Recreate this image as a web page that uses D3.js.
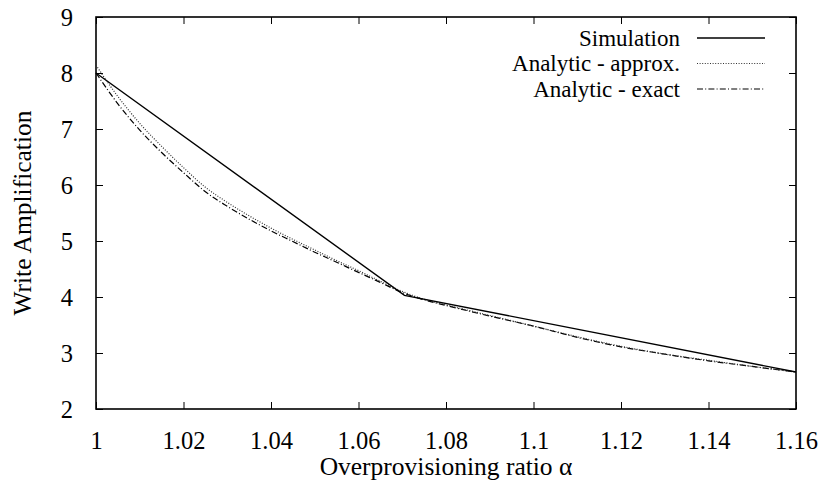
<!DOCTYPE html>
<html>
<head>
<meta charset="utf-8">
<script src="https://cdn.jsdelivr.net/npm/d3@7"></script>
<style>
  html, body { margin: 0; padding: 0; background: #fff; }
  svg { display: block; }
  text { font-family: "Liberation Serif", "Times New Roman", serif; fill: #000; }
</style>
</head>
<body>
<svg id="chart" width="822" height="485"></svg>
<script>
// Overprovisioning ratio on the x axis
const xTicks = [1, 1.02, 1.04, 1.06, 1.08, 1.1, 1.12, 1.14, 1.16];
const yTicks = [2, 3, 4, 5, 6, 7, 8, 9];

// Simulation results
const simAlpha = [1.0, 1.0705, 1.16];
const simWA    = [8.0, 4.03, 2.66];

// Analytic model, exact solution
const exactAlpha = [1.000, 1.005, 1.010, 1.015, 1.020, 1.025, 1.030, 1.035, 1.040, 1.045,
                    1.050, 1.055, 1.060, 1.065, 1.070, 1.075, 1.080, 1.090, 1.100, 1.110,
                    1.120, 1.130, 1.140, 1.150, 1.160];
const exactWA    = [8.00, 7.45, 6.98, 6.58, 6.22, 5.88, 5.62, 5.39, 5.18, 4.99,
                    4.80, 4.62, 4.44, 4.26, 4.08, 3.95, 3.85, 3.66, 3.48, 3.28,
                    3.11, 2.98, 2.86, 2.76, 2.66];

// Analytic model, approximation
const approxAlpha = exactAlpha;
const approxWA    = [8.14, 7.58, 7.10, 6.69, 6.31, 5.96, 5.69, 5.45, 5.23, 5.03,
                     4.84, 4.65, 4.47, 4.28, 4.10, 3.96, 3.86, 3.67, 3.48, 3.29,
                     3.12, 2.98, 2.87, 2.76, 2.66];

const seriesNames = ["Simulation", "Analytic - approx.", "Analytic - exact"];
const seriesDash  = [null, "1,1.6", "6,2.2,1,2.2"];
const seriesColor = ["#000", "#333", "#000"];

const svg = d3.select("#chart");
const margin = { left: 96, right: 26, top: 17, bottom: 76 };
const W = 822, H = 485;

const x = d3.scaleLinear().domain([1, 1.16]).range([margin.left, W - margin.right]);
const y = d3.scaleLinear().domain([2, 9]).range([H - margin.bottom, margin.top]);

const tickFont = 24.5;
const titleFont = 25.5;
const legendFont = 23;
const tickLen = 7;

// Axes: ticks drawn inward on all four sides, labels on bottom and left only
const xFmt = d => String(+d.toFixed(2));
svg.append("g")
  .attr("transform", `translate(0,${y(2)})`)
  .call(d3.axisBottom(x).tickValues(xTicks).tickSizeInner(-tickLen).tickSizeOuter(0).tickPadding(23).tickFormat(xFmt))
  .call(g => g.select(".domain").remove())
  .call(g => g.selectAll("line").attr("stroke", "#000").attr("stroke-width", 1))
  .call(g => g.selectAll("text").attr("font-size", tickFont).attr("font-family", "Liberation Serif").attr("dy", "0.71em"));

svg.append("g")
  .attr("transform", `translate(0,${y(9)})`)
  .call(d3.axisTop(x).tickValues(xTicks).tickSizeInner(-tickLen).tickSizeOuter(0).tickFormat(""))
  .call(g => g.select(".domain").remove())
  .call(g => g.selectAll("line").attr("stroke", "#000").attr("stroke-width", 1));

svg.append("g")
  .attr("transform", `translate(${x(1)},0)`)
  .call(d3.axisLeft(y).tickValues(yTicks).tickSizeInner(-tickLen).tickSizeOuter(0).tickPadding(23).tickFormat(d3.format("d")))
  .call(g => g.select(".domain").remove())
  .call(g => g.selectAll("line").attr("stroke", "#000").attr("stroke-width", 1))
  .call(g => g.selectAll("text").attr("font-size", tickFont).attr("font-family", "Liberation Serif").attr("dy", "0.36em"));

svg.append("g")
  .attr("transform", `translate(${x(1.16)},0)`)
  .call(d3.axisRight(y).tickValues(yTicks).tickSizeInner(-tickLen).tickSizeOuter(0).tickFormat(""))
  .call(g => g.select(".domain").remove())
  .call(g => g.selectAll("line").attr("stroke", "#000").attr("stroke-width", 1));

// Plot frame
svg.append("rect")
  .attr("x", x(1)).attr("y", y(9))
  .attr("width", x(1.16) - x(1)).attr("height", y(2) - y(9))
  .attr("fill", "none").attr("stroke", "#000").attr("stroke-width", 1.6);

// Axis titles
svg.append("text")
  .attr("x", (x(1) + x(1.16)) / 2).attr("y", 475)
  .attr("text-anchor", "middle").attr("font-size", titleFont)
  .text("Overprovisioning ratio α");

svg.append("text")
  .attr("transform", `translate(31,${(y(2) + y(9)) / 2}) rotate(-90)`)
  .attr("text-anchor", "middle").attr("font-size", titleFont)
  .text("Write Amplification");

// Curves
const line = d3.line().x(d => x(d[0])).y(d => y(d[1]));
const seriesData = [
  d3.zip(simAlpha, simWA),
  d3.zip(approxAlpha, approxWA),
  d3.zip(exactAlpha, exactWA)
];
const plot = svg.append("g");
[2, 1, 0].forEach(i => {
  plot.append("path")
    .datum(seriesData[i])
    .attr("d", line.curve(i === 0 ? d3.curveLinear : d3.curveMonotoneX))
    .attr("fill", "none")
    .attr("stroke", seriesColor[i])
    .attr("stroke-width", i === 0 ? 1.4 : 1.2)
    .attr("stroke-dasharray", seriesDash[i]);
});

// Legend
const legend = svg.append("g");
const legendRows = [38, 63.5, 89];
seriesNames.forEach((name, i) => {
  legend.append("text")
    .attr("x", 680).attr("y", legendRows[i])
    .attr("dy", "0.33em")
    .attr("text-anchor", "end").attr("font-size", legendFont)
    .text(name);
  legend.append("line")
    .attr("x1", 697).attr("x2", 765)
    .attr("y1", legendRows[i]).attr("y2", legendRows[i])
    .attr("stroke", seriesColor[i])
    .attr("stroke-width", i === 0 ? 1.4 : 1.2)
    .attr("stroke-dasharray", seriesDash[i]);
});
</script>
</body>
</html>
